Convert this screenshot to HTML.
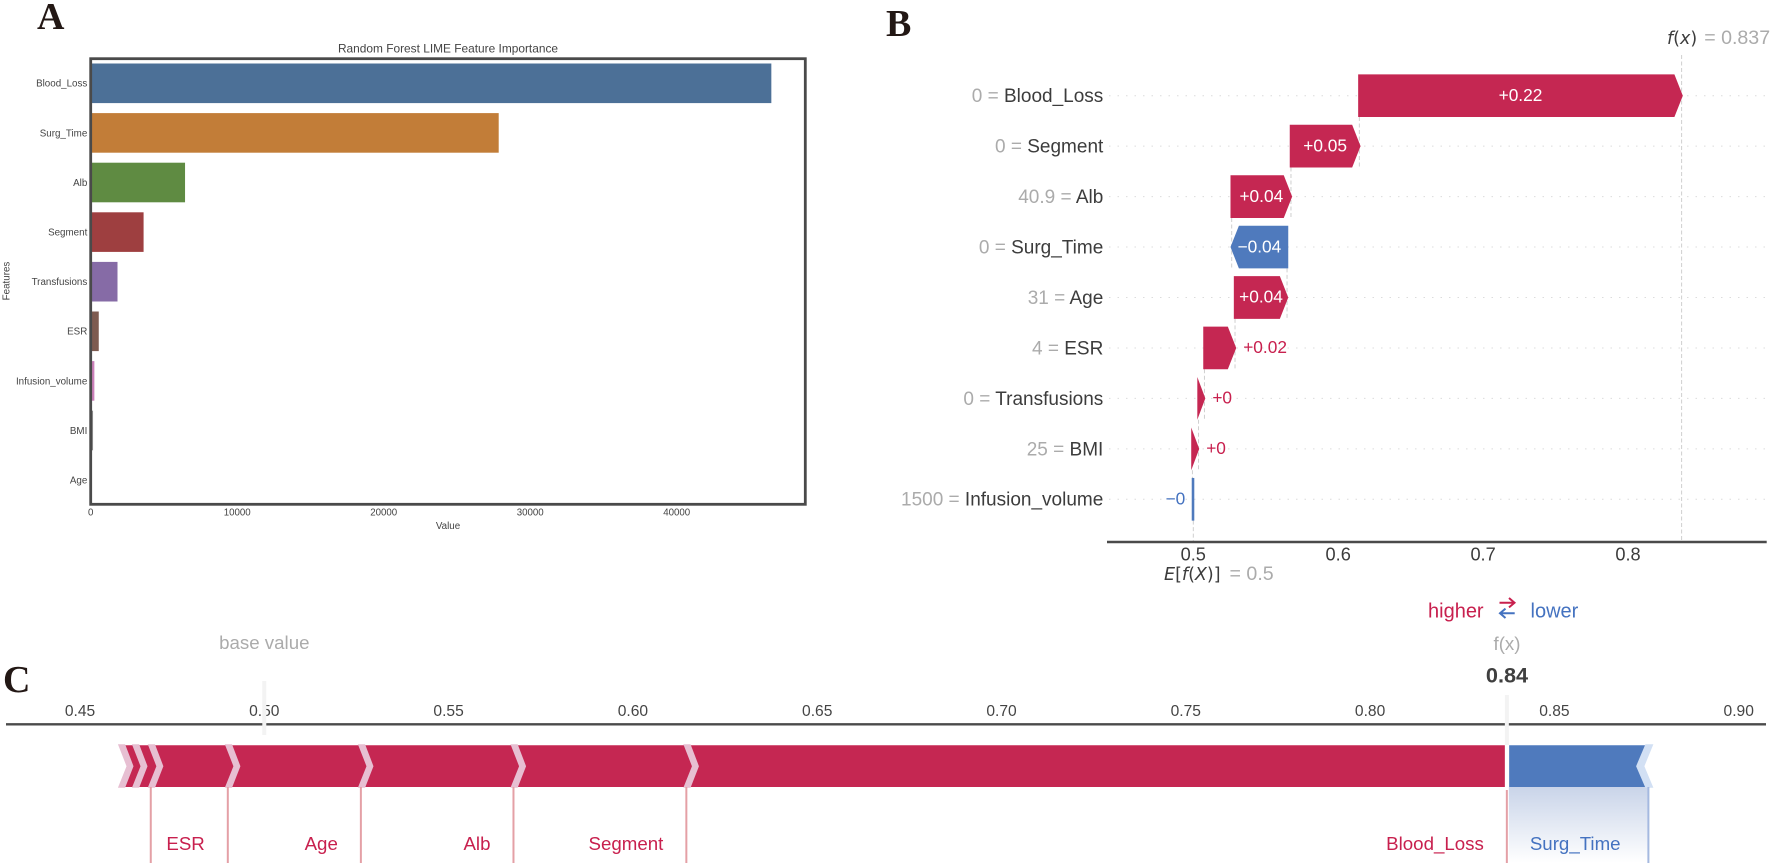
<!DOCTYPE html>
<html lang="en">
<head>
<meta charset="utf-8">
<title>Random Forest LIME and SHAP explanation panels</title>
<style>
html,body{margin:0;padding:0;background:#fff;width:1772px;height:866px;overflow:hidden}
svg{display:block;filter:blur(0.35px)}
text{font-family:"Liberation Sans",Arial,sans-serif}
.letter{font-family:"Liberation Serif",serif;font-weight:700;font-size:38px;fill:#231815}
.math{font-family:"DejaVu Sans",sans-serif;font-size:17.5px;fill:#3c3c3c}
.grey{fill:#ababab}
</style>
</head>
<body>
<svg id="figure" xmlns="http://www.w3.org/2000/svg" width="1772" height="866" viewBox="0 0 1772 866">
  <defs>
    <linearGradient id="blueFade" x1="0" y1="0" x2="0" y2="1">
      <stop offset="0" stop-color="#c9d4e9"/>
      <stop offset="1" stop-color="#ffffff"/>
    </linearGradient>
  </defs>
  <rect width="1772" height="866" fill="#fff"/>

  <text class="letter" x="37" y="29">A</text>
  <text class="letter" x="886" y="36">B</text>
  <text class="letter" x="3" y="692">C</text>

  <g id="panelA">
    <text x="448" y="52.5" text-anchor="middle" font-size="11.9" fill="#444">Random Forest LIME Feature Importance</text>
    <text x="448" y="529" text-anchor="middle" font-size="9.8" fill="#444">Value</text>
    <text transform="translate(9.5,281) rotate(-90)" text-anchor="middle" font-size="9.8" fill="#444">Features</text>
  </g>

  <g id="panelB">
    <text x="1667" y="44"><tspan class="math" font-style="italic">f</tspan><tspan class="math">(</tspan><tspan class="math" font-style="italic">x</tspan><tspan class="math">)</tspan><tspan class="grey" font-size="19.6" dx="7">= 0.837</tspan></text>
    <text x="1164" y="580"><tspan class="math" font-style="italic">E</tspan><tspan class="math">[</tspan><tspan class="math" font-style="italic">f</tspan><tspan class="math">(</tspan><tspan class="math" font-style="italic">X</tspan><tspan class="math">)]</tspan><tspan class="grey" font-size="19.6" dx="9">= 0.5</tspan></text>
    <g>
      <text x="1428" y="617.5" font-size="20" fill="#c8204e">higher</text>
      <path d="M1499.5 602.7H1514M1509 598L1514.5 602.7L1509 607.4" fill="none" stroke="#c8204e" stroke-width="2"/>
      <path d="M1514.7 613.3H1500M1505.5 608.6L1500 613.3L1505.5 618" fill="none" stroke="#4472c0" stroke-width="2"/>
      <text x="1530.5" y="617.5" font-size="20" fill="#4472c0">lower</text>
    </g>
  </g>

  <g id="panelC">
    <text x="264.3" y="649" text-anchor="middle" font-size="18.7" fill="#ababab">base value</text>
    <text x="1507" y="650" text-anchor="middle" font-size="18.7" fill="#ababab">f(x)</text>
    <text x="1507" y="682.5" text-anchor="middle" font-size="21.7" font-weight="700" fill="#3f3f3f">0.84</text>
  </g>
</svg>

<script>
/* ---------- Panel A data ---------- */
const limeFeatures = ['Blood_Loss','Surg_Time','Alb','Segment','Transfusions','ESR','Infusion_volume','BMI','Age'];
const limeValues = [46460, 27850, 6440, 3610, 1830, 550, 250, 160, 60];
const limeColors = ['#4c7097','#c27d38','#5f8b42','#9e3f40','#866ba6','#7e5b50','#cb80b9','#8d8d8d','#b3b04a'];
const limeTicks = [0, 10000, 20000, 30000, 40000];
const limeTickLabels = ['0','10000','20000','30000','40000'];

/* ---------- Panel B data (top row first) ---------- */
const waterfallFeatures = ['Blood_Loss','Segment','Alb','Surg_Time','Age','ESR','Transfusions','BMI','Infusion_volume'];
const waterfallFeatureValues = ['0','0','40.9','0','31','4','0','25','1500'];
const waterfallContributions = [0.2224, 0.0472, 0.0409, -0.0382, 0.0359, 0.0211, 0.0041, 0.0042, -0.0006];
const waterfallBase = 0.5;
const waterfallTicks = [0.5, 0.6, 0.7, 0.8];
const waterfallTickLabels = ['0.5','0.6','0.7','0.8'];

/* ---------- Panel C data ---------- */
const forceRedStops = [0.4611, 0.4649, 0.4692, 0.4901, 0.5262, 0.5676, 0.6145, 0.8371];
const forceRedLabels = ['', '', 'ESR', 'Age', 'Alb', 'Segment', 'Blood_Loss'];
const forceBlueEnd = 0.8755;
const forceBlueLabel = 'Surg_Time';
const forceBaseValue = 0.5;
const forceTicks = [0.45, 0.5, 0.55, 0.6, 0.65, 0.7, 0.75, 0.8, 0.85, 0.9];
const forceTickLabels = ['0.45','0.50','0.55','0.60','0.65','0.70','0.75','0.80','0.85','0.90'];

const NS = 'http://www.w3.org/2000/svg';
function mk(tag, parent, props, txt) {
  const n = document.createElementNS(NS, tag);
  for (const k in props) n.setAttribute(k, props[k]);
  if (txt !== undefined) n.textContent = txt;
  parent.appendChild(n);
  return n;
}

/* ========== Panel A ========== */
const gA = document.getElementById('panelA');
const limeX = v => 90.7 + v * 0.01465;
const limeY = i => 83.3 + i * 49.6;
const limeBarH = 39.6;

limeValues.forEach((v, i) => {
  const bar = mk('rect', gA, {x: limeX(0), y: limeY(i) - limeBarH / 2, width: limeX(v) - limeX(0), height: limeBarH, fill: limeColors[i]});
  
  
  const lab = mk('text', gA, {x: 87.3, y: limeY(i) + 3.4, 'text-anchor': 'end', 'font-size': 9.8, fill: '#444'}, limeFeatures[i]);
  
  
});
limeTicks.forEach((t, i) => {
  const lab = mk('text', gA, {x: limeX(t), y: 515.7, 'text-anchor': 'middle', 'font-size': 9.7, fill: '#444'}, limeTickLabels[i]);
  
  
});
const frame = mk('rect', gA, {x: 90.7, y: 58.7, width: 714.6, height: 445.6, fill: 'none', stroke: '#4a4a4a', 'stroke-width': 2.8});



/* ========== Panel B ========== */
const gB = document.getElementById('panelB');
const wfX = v => 1193.3 + (v - 0.5) * 1449;
const wfY = i => 95.7 + i * 50.45;
const wfBarH = 42.7;
const wfHead = 8.4;
const wfBleed = 1.2;
const AXIS_B = 542;
const RED = '#c52752';
const BLUE = '#4f7abd';

/* cumulative positions, computed from the bottom row upward */
const wfStarts = [];
const wfEnds = [];
let running = waterfallBase;
for (let i = waterfallContributions.length - 1; i >= 0; i--) {
  wfStarts[i] = running;
  running += waterfallContributions[i];
  wfEnds[i] = running;
}
function shapFmt(c) {
  const s = Math.abs(c).toFixed(2).replace(/0+$/, '').replace(/\.$/, '');
  return (c < 0 ? '\u2212' : '+') + s;
}

waterfallFeatures.forEach((f, i) => {
  const dots = mk('line', gB, {x1: 1109, x2: 1766, y1: wfY(i), y2: wfY(i), stroke: '#dcdcdc', 'stroke-width': 1, 'stroke-dasharray': '1.5 7'});
  
  
});
const fxLine = mk('line', gB, {x1: wfX(wfEnds[0]), x2: wfX(wfEnds[0]), y1: 55, y2: AXIS_B, stroke: '#cfcfcf', 'stroke-width': 1, 'stroke-dasharray': '4 2.5'});



waterfallFeatures.forEach((f, i) => {
  const x = wfX(wfStarts[i]);
  const y1 = wfY(i) + wfBarH / 2;
  const y2 = i < waterfallFeatures.length - 1 ? wfY(i + 1) + wfBarH / 2 : AXIS_B;
  const conn = mk('line', gB, {x1: x, x2: x, y1: y1, y2: y2, stroke: '#cfcfcf', 'stroke-width': 1, 'stroke-dasharray': '4 2.5'});
  
  
});

waterfallFeatures.forEach((f, i) => {
  const c = waterfallContributions[i];
  const y = wfY(i), t = y - wfBarH / 2, b = y + wfBarH / 2;
  const a = wfX(wfStarts[i]), e = wfX(wfEnds[i]);
  const wide = Math.abs(e - a);
  let pts, lo, hi;
  if (c >= 0) {
    const left = a - wfBleed;
    const tip = wide >= wfHead ? e + wfBleed : left + 8;
    const neck = Math.max(left, tip - wfHead);
    pts = [[left, t], [neck, t], [tip, y], [neck, b], [left, b]];
    lo = left; hi = tip;
  } else if (wide >= wfHead) {
    const tip = e - wfBleed;
    const neck = tip + wfHead;
    const right = a + wfBleed;
    pts = [[right, t], [neck, t], [tip, y], [neck, b], [right, b]];
    lo = tip; hi = right;
  } else {
    pts = [[a + 1, t], [e - 0.7, t], [e - 0.7, b], [a + 1, b]];
    lo = e - 0.7; hi = a + 1;
  }
  const bar = mk('polygon', gB, {points: pts.map(p => p.join(',')).join(' '), fill: c >= 0 ? RED : BLUE});
  
  

  const inside = hi - lo > 46;
  const props = {y: y + 5.2, 'font-size': 17.3};
  if (inside) {
    props.x = (lo + hi) / 2;
    props['text-anchor'] = 'middle';
    props.fill = '#fff';
  } else if (c >= 0) {
    props.x = hi + 7;
    props.fill = '#c8204e';
  } else {
    props.x = lo - 6.5;
    props['text-anchor'] = 'end';
    props.fill = '#4472c0';
  }
  const vlab = mk('text', gB, props, shapFmt(c));
  
  

  const row = mk('text', gB, {x: 1103.3, y: y + 6.4, 'text-anchor': 'end', 'font-size': 19});
  
  
  mk('tspan', row, {fill: '#ababab'}, waterfallFeatureValues[i] + ' = ');
  mk('tspan', row, {fill: '#3c3c3c'}, f);
});

const axisB = mk('line', gB, {x1: 1107, x2: 1766.7, y1: AXIS_B, y2: AXIS_B, stroke: '#4a4a4a', 'stroke-width': 2.4});


waterfallTicks.forEach((t, i) => {
  const lab = mk('text', gB, {x: wfX(t), y: 560.7, 'text-anchor': 'middle', 'font-size': 18.2, fill: '#3c3c3c'}, waterfallTickLabels[i]);
  
  
});

/* ========== Panel C ========== */
const gC = document.getElementById('panelC');
const fX = v => 80 + (v - 0.45) * 3686;
const BT = 745.3, BB = 787, BM = 766.2, LINE_END = 863;
const F_RED = '#c52752', F_BLUE = '#4f7abd';
const fxPos = fX(forceRedStops[forceRedStops.length - 1]);
const blueX = fX(forceBlueEnd);

forceTicks.forEach((t, i) => {
  const lab = mk('text', gC, {x: fX(t), y: 716, 'text-anchor': 'middle', 'font-size': 15.6, fill: '#444'}, forceTickLabels[i]);
  
  
});
const axisC = mk('line', gC, {x1: 6, x2: 1766, y1: 724.3, y2: 724.3, stroke: '#4a4a4a', 'stroke-width': 2.4});



const baseBand = mk('rect', gC, {x: fX(forceBaseValue) - 2, y: 681, width: 4, height: 54, fill: '#f3f3f3'});


const fxBand = mk('rect', gC, {x: fxPos - 2, y: 695, width: 4, height: 50, fill: '#f3f3f3'});



const fade = mk('rect', gC, {x: fxPos + 2, y: BB, width: blueX - fxPos - 2, height: LINE_END - BB, fill: 'url(#blueFade)'});



const x0 = fX(forceRedStops[0]);
const redBar = mk('polygon', gC, {points: [[x0, BT], [fxPos - 2, BT], [fxPos - 2, BB], [x0, BB], [x0 + 8, BM]].map(p => p.join(',')).join(' '), fill: F_RED});


const blueBar = mk('polygon', gC, {points: [[fxPos + 2.3, BT], [blueX - 2, BT], [blueX - 11, BM], [blueX - 2, BB], [fxPos + 2.3, BB]].map(p => p.join(',')).join(' '), fill: F_BLUE});



forceRedStops.slice(0, -1).forEach((v, i) => {
  const L = fX(v);
  const pts = [[L - 3, 744.3], [L + 4.2, 744.3], [L + 12.6, BM], [L + 4.2, 787.8], [L - 3, 787.8], [L + 5.6, BM]];
  const chev = mk('polygon', gC, {points: pts.map(p => p.join(',')).join(' '), fill: '#e7bfd2'});
  
  
});
const blueChev = mk('polygon', gC, {points: [[blueX - 3, 744.3], [blueX + 5, 744.3], [blueX - 4, BM], [blueX + 5, 787.8], [blueX - 3, 787.8], [blueX - 12.3, BM]].map(p => p.join(',')).join(' '), fill: '#d2e0f4'});



forceRedLabels.forEach((name, i) => {
  if (!name) return;
  const xs = fX(forceRedStops[i]);
  const xe = fX(forceRedStops[i + 1]);
  const line = mk('line', gC, {x1: xs, x2: xs, y1: BB, y2: LINE_END, stroke: '#e4a0a6', 'stroke-width': 2});
  
  
  const lab = mk('text', gC, {x: xe - 23, y: 850, 'text-anchor': 'end', 'font-size': 18.7, fill: '#c8204e'}, name);
  
  
});
const fxDivider = mk('line', gC, {x1: fxPos, x2: fxPos, y1: 790, y2: LINE_END, stroke: '#e4a0a6', 'stroke-width': 2});


const blueDivider = mk('line', gC, {x1: blueX, x2: blueX, y1: BB, y2: LINE_END, stroke: '#a5b9e0', 'stroke-width': 2});


const blueLab = mk('text', gC, {x: fxPos + 23, y: 850, 'font-size': 18.7, fill: '#4472c0'}, forceBlueLabel);


</script>
</body>
</html>
